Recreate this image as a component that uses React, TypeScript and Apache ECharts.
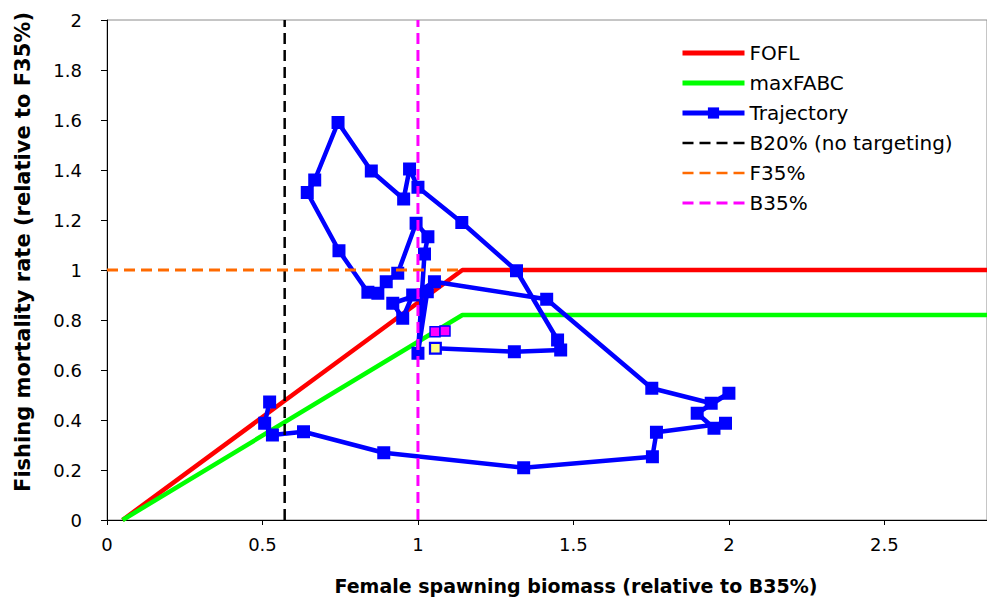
import React, { useEffect, useRef } from "react";
import * as echarts from "echarts";

// ---- data ----
const xTickValues = [0, 0.5, 1, 1.5, 2, 2.5];
const yTickValues = [0, 0.2, 0.4, 0.6, 0.8, 1, 1.2, 1.4, 1.6, 1.8, 2];

// Harvest control rules (relative to B35% / F35%)
const ruleB = [0.05, 1.143, 2.83];
const foflF = [0, 1, 1];
const maxFabcF = [0, 0.82, 0.82];

// Reference lines
const b20 = 0.5714;
const f35 = 1;
const f35End = 1.143;
const b35 = 1;

// Trajectory (female spawning biomass rel. to B35%, fishing mortality rel. to F35%)
const trajB = [
  0.523, 0.507, 0.532, 0.632, 0.89, 1.34, 1.754, 1.767, 1.989, 1.952, 1.898, 2.0, 1.943,
  1.752, 1.414, 1.053, 0.983, 0.951, 0.919, 1.03, 1.0, 1.021, 1.032, 0.994, 0.935, 0.898,
  0.871, 0.839, 0.746, 0.644, 0.668, 0.743, 0.85, 0.954, 0.973, 1.0, 1.141, 1.317, 1.449,
  1.459, 1.31, 1.056,
];
const trajF = [
  0.472, 0.387, 0.34, 0.353, 0.269, 0.209, 0.253, 0.351, 0.387, 0.367, 0.427, 0.507, 0.467,
  0.527, 0.883, 0.953, 0.9, 0.807, 0.867, 0.913, 0.667, 1.064, 1.133, 1.187, 0.987, 0.953,
  0.907, 0.911, 1.077, 1.31, 1.36, 1.59, 1.396, 1.284, 1.404, 1.331, 1.19, 0.997, 0.72,
  0.68, 0.673, 0.687,
];

// Projections and current year
const projB = [1.055, 1.087];
const projF = [0.753, 0.756];
const currentB = [1.056];
const currentF = [0.687];

const legendNames = ["FOFL", "maxFABC", "Trajectory", "B20% (no targeting)", "F35%", "B35%"];

const FONT = '"DejaVu Sans", Arial, sans-serif';

export default function App() {
  const ref = useRef<HTMLDivElement>(null);

  useEffect(() => {
    if (!ref.current) return;
    const chart = echarts.init(ref.current, undefined, { renderer: "svg" });
    const zip = (a: number[], b: number[]) => a.map((v, i) => [v, b[i]]);
    const dash = [11, 6];

    const legendStyles: Record<string, any> = {
      FOFL: { lineStyle: { width: 5, color: "#ff0000" }, itemStyle: { opacity: 0 } },
      maxFABC: { lineStyle: { width: 5, color: "#00ff00" }, itemStyle: { opacity: 0 } },
      Trajectory: { lineStyle: { width: 5, color: "#0000ff" }, itemStyle: { color: "#0000ff" } },
      "B20% (no targeting)": {
        lineStyle: { width: 2.5, color: "#000000", type: dash },
        itemStyle: { opacity: 0 },
      },
      "F35%": { lineStyle: { width: 2.5, color: "#ff6a00", type: dash }, itemStyle: { opacity: 0 } },
      "B35%": { lineStyle: { width: 3, color: "#ff00ff", type: dash }, itemStyle: { opacity: 0 } },
    };

    chart.setOption({
      animation: false,
      backgroundColor: "#ffffff",
      grid: {
        left: 107,
        right: 0,
        top: 20,
        bottom: 81,
        show: true,
        borderColor: "#8c8c8c",
        borderWidth: 1,
        backgroundColor: "transparent",
      },
      legend: {
        data: legendNames.map((n) => ({ name: n, ...legendStyles[n] })),
        orient: "vertical",
        left: 680,
        top: 43,
        padding: 0,
        itemWidth: 62,
        itemHeight: 14,
        itemGap: 10,
        textStyle: { fontFamily: FONT, fontSize: 20, color: "#000", lineHeight: 20 },
      },
      xAxis: {
        type: "value",
        min: 0,
        max: 2.83,
        interval: 0.5,
        axisLine: { show: true, onZero: false, lineStyle: { color: "#000", width: 1 } },
        axisTick: { show: true, length: 5, inside: false, lineStyle: { color: "#000" } },
        axisLabel: {
          fontFamily: FONT,
          fontSize: 18,
          color: "#000",
          margin: 15,
          showMaxLabel: false,
          formatter: (v: number) => (xTickValues.some((t) => Math.abs(t - v) < 1e-6) ? String(v) : ""),
        },
        splitLine: { show: false },
      },
      yAxis: {
        type: "value",
        min: 0,
        max: 2,
        interval: 0.2,
        axisLine: { show: true, onZero: false, lineStyle: { color: "#000", width: 1 } },
        axisTick: { show: true, length: 6, inside: false, lineStyle: { color: "#000" } },
        axisLabel: {
          fontFamily: FONT,
          fontSize: 18,
          color: "#000",
          margin: 25,
          formatter: (v: number) => {
            const t = yTickValues.find((y) => Math.abs(y - v) < 1e-6);
            return t === undefined ? "" : String(t);
          },
        },
        splitLine: { show: false },
      },
      graphic: [
        {
          type: "text",
          x: 23,
          y: 252,
          rotation: Math.PI / 2,
          style: {
            text: "Fishing mortality rate (relative to F35%)",
            font: `bold 21px ${FONT}`,
            fill: "#000",
            align: "center",
            verticalAlign: "middle",
          },
        },
        {
          type: "text",
          x: 576,
          y: 586,
          style: {
            text: "Female spawning biomass (relative to B35%)",
            font: `bold 19px ${FONT}`,
            fill: "#000",
            align: "center",
            verticalAlign: "middle",
          },
        },
      ],
      series: [
        {
          name: "FOFL",
          type: "line",
          data: zip(ruleB, foflF),
          symbol: "none",
          lineStyle: { color: "#ff0000", width: 4.5 },
          itemStyle: { color: "#ff0000" },
          z: 2,
        },
        {
          name: "maxFABC",
          type: "line",
          data: zip(ruleB, maxFabcF),
          symbol: "none",
          lineStyle: { color: "#00ff00", width: 4.5 },
          itemStyle: { color: "#00ff00" },
          z: 2,
        },
        {
          name: "Trajectory",
          type: "line",
          data: zip(trajB, trajF),
          symbol: "rect",
          symbolSize: 13,
          showAllSymbol: true,
          lineStyle: { color: "#0000ff", width: 4.5 },
          itemStyle: { color: "#0000ff" },
          z: 3,
        },
        {
          name: "B20% (no targeting)",
          type: "line",
          data: [
            [b20, 0],
            [b20, 2],
          ],
          symbol: "none",
          lineStyle: { color: "#000000", width: 2.5, type: dash },
          itemStyle: { color: "#000000" },
          z: 4,
        },
        {
          name: "F35%",
          type: "line",
          data: [
            [0, f35],
            [f35End, f35],
          ],
          symbol: "none",
          lineStyle: { color: "#ff6a00", width: 3, type: dash },
          itemStyle: { color: "#ff6a00" },
          z: 4,
        },
        {
          name: "B35%",
          type: "line",
          data: [
            [b35, 0],
            [b35, 2],
          ],
          symbol: "none",
          lineStyle: { color: "#ff00ff", width: 3, type: dash },
          itemStyle: { color: "#ff00ff" },
          z: 4,
        },
        {
          name: "Projection",
          type: "scatter",
          data: zip(projB, projF),
          symbol: "rect",
          symbolSize: 10,
          itemStyle: { color: "#ff00ff", borderColor: "#0000ff", borderWidth: 1.5, opacity: 1 },
          z: 5,
        },
        {
          name: "Current",
          type: "scatter",
          data: zip(currentB, currentF),
          symbol: "rect",
          symbolSize: 10,
          itemStyle: { color: "#ffff80", borderColor: "#0000ff", borderWidth: 1.5, opacity: 1 },
          z: 5,
        },
      ],
    });

    return () => chart.dispose();
  }, []);

  return (
    <div
      ref={ref}
      style={{ position: "fixed", left: 0, top: 0, width: 987, height: 601, background: "#fff" }}
    />
  );
}
